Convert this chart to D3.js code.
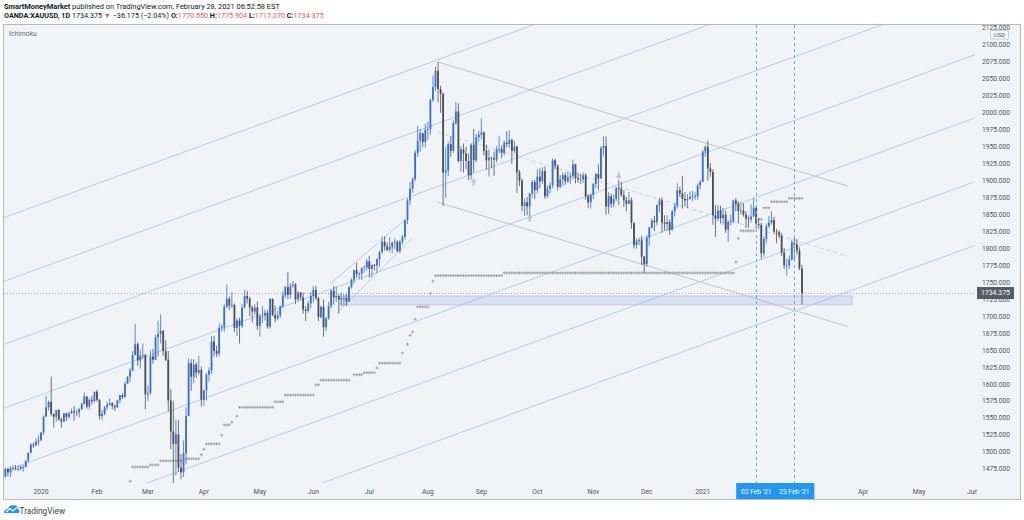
<!DOCTYPE html>
<html>
<head>
<meta charset="utf-8">
<script src="https://cdn.jsdelivr.net/npm/d3@7"></script>
<style>
  body { margin: 0; background: #fff; }
  svg { display: block; font-family: Roboto, "Open Sans", sans-serif; }
</style>
</head>
<body>
<div id="wrapper"></div>
<script>
// daily XAUUSD bars, 11 Dec 2019 .. 26 Feb 2021 (one row per month)
const firstOpen = 1464
const closes = [
  1475,1470,1476,1476,1475,1475,1478,1478,1487,1499,1511,1510,1515,1517,
  1529,1552,1566,1574,1556,1552,1562,1548,1545,1557,1552,1557,1560,1558,1558,1563,1571,1582,1567,1577,1575,1589,
  1577,1553,1556,1566,1570,1572,1568,1566,1576,1584,1581,1601,1611,1620,1643,1659,1635,1642,1643,1585,
  1587,1641,1636,1669,1674,1679,1649,1636,1576,1530,1512,1526,1477,1470,1498,1553,1631,1611,1629,1617,1621,1577,
  1591,1614,1620,1663,1649,1645,1683,1684,1714,1726,1716,1717,1683,1694,1686,1713,1730,1726,1713,1707,1713,1686,
  1700,1701,1705,1685,1726,1702,1697,1701,1715,1731,1743,1732,1745,1747,1725,1735,1728,1710,1708,1719,1730,
  1739,1727,1699,1714,1684,1697,1715,1738,1728,1730,1725,1727,1727,1722,1743,1754,1768,1762,1763,1771,1772,1781,
  1770,1776,1775,1784,1795,1810,1803,1798,1802,1809,1810,1796,1810,1817,1842,1871,1888,1902,1941,1959,1970,1957,1975,
  1976,2019,2038,2062,2035,2028,1912,1915,1954,1944,1985,2002,1929,1946,1940,1929,1908,1953,1930,1964,1968,
  1971,1944,1930,1934,1933,1931,1946,1947,1941,1956,1954,1960,1944,1950,1912,1900,1863,1868,1862,1881,1898,1886,
  1906,1899,1914,1877,1888,1893,1930,1922,1891,1902,1908,1899,1905,1907,1924,1904,1902,1902,1908,1877,1868,1879,
  1895,1910,1903,1948,1951,1862,1877,1866,1873,1889,1888,1879,1871,1866,1871,1838,1805,1811,1812,1788,1777,
  1816,1831,1841,1839,1864,1871,1838,1836,1839,1827,1855,1863,1886,1881,1873,1871,1873,1876,1877,1877,1893,1898,
  1943,1950,1918,1913,1849,1844,1856,1845,1850,1828,1839,1840,1871,1866,1855,1856,1850,1844,1843,1847,
  1860,1836,1835,1793,1814,1833,1838,1842,1825,1824,1819,1794,1775,1775,1784,1809,1806,1797,1770.55,1734.375
]
const highs = [
  1477,1477,1479,1481,1481,1480,1481,1481,1488,1499,1513,1514,1520,1524,
  1529,1554,1583,1576,1611,1557,1562,1563,1551,1558,1558,1560,1564,1568,1563,1565,1573,1588,1582,1580,1583,1589,
  1592,1578,1562,1568,1574,1579,1574,1570,1577,1584,1587,1604,1612,1624,1649,1689,1662,1651,1660,1645,
  1598,1650,1652,1673,1693,1703,1676,1665,1649,1593,1575,1548,1547,1497,1517,1566,1638,1637,1637,1632,1642,1626,
  1592,1617,1625,1671,1671,1657,1690,1688,1718,1747,1729,1736,1719,1697,1698,1718,1739,1738,1729,1716,1718,1722,
  1703,1715,1710,1709,1727,1723,1716,1708,1716,1737,1745,1765,1749,1752,1749,1737,1736,1735,1715,1723,1736,
  1745,1745,1729,1716,1725,1699,1721,1739,1745,1744,1733,1735,1732,1733,1745,1756,1769,1779,1765,1772,1775,1785,
  1789,1776,1777,1786,1797,1818,1818,1809,1817,1810,1815,1812,1812,1820,1843,1874,1898,1905,1945,1981,1976,1970,1984,
  1987,2021,2055,2068,2075,2040,2030,1949,1958,1966,1989,2016,2014,1951,1955,1950,1940,1955,1976,1969,1974,
  1992,1973,1953,1946,1935,1943,1951,1966,1952,1959,1973,1974,1962,1959,1952,1916,1903,1874,1876,1882,1901,1901,
  1917,1918,1920,1921,1893,1898,1933,1932,1924,1908,1912,1912,1913,1912,1931,1925,1912,1910,1912,1911,1880,1881,
  1897,1911,1924,1951,1965,1965,1883,1881,1880,1891,1901,1898,1886,1876,1883,1875,1838,1815,1816,1819,1789,
  1820,1832,1844,1848,1865,1875,1875,1849,1849,1843,1857,1867,1896,1891,1907,1883,1880,1884,1885,1883,1896,1901,
  1945,1952,1959,1926,1917,1864,1864,1863,1860,1856,1841,1850,1872,1875,1870,1868,1867,1855,1849,1865,
  1875,1863,1845,1838,1818,1837,1848,1855,1847,1829,1827,1823,1801,1785,1790,1813,1816,1814,1802,1775.904
]
const lows = [
  1462,1464,1463,1472,1473,1472,1473,1471,1477,1485,1498,1506,1508,1510,
  1517,1525,1552,1561,1553,1536,1545,1546,1536,1544,1546,1549,1556,1546,1553,1551,1562,1570,1564,1563,1570,1573,
  1574,1548,1547,1554,1562,1568,1563,1561,1565,1572,1578,1580,1600,1603,1619,1642,1627,1623,1637,1563,
  1575,1585,1630,1636,1641,1660,1642,1634,1560,1504,1451,1465,1471,1460,1463,1482,1553,1590,1601,1609,1614,1567,
  1568,1576,1604,1615,1641,1640,1641,1678,1677,1712,1709,1712,1677,1671,1660,1683,1712,1719,1700,1691,1702,1680,
  1670,1690,1694,1682,1682,1700,1691,1694,1698,1712,1727,1725,1726,1742,1718,1722,1724,1704,1693,1705,1712,
  1720,1724,1693,1697,1670,1678,1695,1712,1717,1721,1704,1715,1716,1715,1721,1741,1748,1757,1755,1754,1764,1767,
  1757,1758,1768,1764,1773,1792,1797,1796,1795,1793,1799,1795,1793,1806,1813,1836,1864,1882,1899,1935,1942,1949,1949,
  1960,1968,2016,2032,2015,2000,1863,1875,1907,1935,1941,1982,1927,1913,1912,1917,1901,1902,1912,1927,1957,
  1961,1937,1916,1906,1918,1907,1927,1940,1933,1937,1949,1948,1925,1940,1882,1892,1855,1848,1849,1848,1875,1873,
  1881,1889,1895,1873,1875,1881,1889,1917,1886,1889,1892,1894,1897,1895,1902,1896,1897,1895,1897,1872,1860,1859,
  1873,1889,1886,1903,1936,1850,1851,1860,1861,1870,1864,1876,1861,1855,1866,1829,1800,1800,1805,1776,1764,
  1773,1804,1829,1826,1834,1853,1823,1827,1826,1820,1827,1847,1859,1876,1859,1862,1860,1872,1870,1872,1872,1887,
  1900,1935,1900,1906,1835,1817,1840,1837,1835,1823,1810,1834,1837,1855,1837,1850,1847,1830,1831,1838,
  1848,1830,1829,1785,1788,1808,1830,1835,1822,1808,1815,1789,1770,1760,1770,1782,1782,1791,1768,1717.27
]

// indicator crosses: [first bar, last bar, price]
const crossRuns = [
  [49,49,1457],[50,56,1478],[57,60,1481],[61,69,1487],[71,76,1490],[77,77,1496],[78,78,1504],
  [79,84,1512],[85,85,1525],[86,88,1540],[89,89,1544],[91,91,1553],[92,105,1566],[106,109,1574],
  [110,121,1584],[122,123,1599],[124,135,1606],[137,140,1614],[141,145,1617],[146,146,1624],
  [147,155,1631],[156,156,1646],[158,158,1659],[159,159,1672],[160,160,1677],[161,161,1696],
  [162,166,1714],[167,167,1734],[168,168,1752],[169,195,1760],[196,286,1764],[287,287,1780],
  [288,288,1815],[289,294,1826],[296,297,1843],[298,300,1860],[301,307,1869],[308,313,1874]
]
// pivot arrows: [bar, price, direction]
const arrows = [[184,1898,'up'],[206,1845,'up'],[241,1907,'down']]

// drawings
const channelStarts = [1845,1751,1658,1564,1471,1377,1283]   // prices at bar -1
const channelRise = 523                                        // rise from bar -1 to bar 382
const channelBars = [-1, 382]
const grayUpper = [[170,2075],[331,1892]]
const grayLower = [[170,1868],[331,1685]]
const smallUpper = [[127.6,1748],[157,1842]]
const smallLower = [[130.3,1705],[159.8,1815]]
const zone = {from: 131.5, to: 332.7, top: 1730, bottom: 1717}
const markedBars = [295, 310]
const markedLabels = ["02 Feb '21", "23 Feb '21"]
const lastPrice = 1734.375
const priceTicks = d3.range(1475, 2126, 25)

// calendar of trading bars (weekdays, no 25 Dec / 1 Jan)
const days = d3.timeDay.range(new Date(2019, 11, 11), new Date(2021, 6, 1))
  .filter(d => d.getDay() !== 0 && d.getDay() !== 6)
  .filter(d => !(d.getMonth() === 11 && d.getDate() === 25) && !(d.getMonth() === 0 && d.getDate() === 1))

const bars = closes.map((c, i) => ({
  i, c,
  o: i === 0 ? firstOpen : closes[i - 1],
  h: highs[i], l: lows[i]
}))

const width = 1024, height = 520
const pane = {left: 4, right: 975, top: 25, bottom: 483}

const x = d3.scaleLinear().domain([14, 313]).range([41, 802])
const y = d3.scaleLinear().domain([1475, 2100]).range([469, 45])

const svg = d3.select('#wrapper').append('svg')
  .attr('width', width).attr('height', height)

svg.append('rect').attr('width', width).attr('height', height).attr('fill', '#fff')
svg.append('rect')
  .attr('x', 3.5).attr('y', 24.5).attr('width', 1017).attr('height', 475)
  .attr('fill', '#f2f3f6').attr('stroke', '#b6b9c0')

const defs = svg.append('defs')
defs.append('clipPath').attr('id', 'paneClip').append('rect')
  .attr('x', pane.left).attr('y', pane.top)
  .attr('width', pane.right - pane.left).attr('height', pane.bottom - pane.top)
defs.append('clipPath').attr('id', 'axisClip').append('rect')
  .attr('x', pane.right).attr('y', pane.top).attr('width', 45).attr('height', pane.bottom - pane.top)
defs.append('clipPath').attr('id', 'timeClip').append('rect')
  .attr('x', pane.left).attr('y', pane.bottom).attr('width', pane.right - pane.left + 2).attr('height', 16)

const chart = svg.append('g').attr('clip-path', 'url(#paneClip)')

// parallel channel
chart.selectAll('.chan').data(channelStarts).join('line')
  .attr('x1', x(channelBars[0])).attr('x2', x(channelBars[1]))
  .attr('y1', d => y(d)).attr('y2', d => y(d + channelRise))
  .attr('stroke', '#a9d0f5').attr('stroke-width', 1)

// falling channel
const seg = (g, p, stroke, dash) => g.append('line')
  .attr('x1', x(p[0][0])).attr('y1', y(p[0][1]))
  .attr('x2', x(p[1][0])).attr('y2', y(p[1][1]))
  .attr('stroke', stroke).attr('stroke-width', 1)
  .attr('stroke-dasharray', dash || null)
seg(chart, grayUpper, '#c2c4c8')
seg(chart, grayLower, '#c2c4c8')
seg(chart, [[grayUpper[0][0], (grayUpper[0][1] + grayLower[0][1]) / 2],
            [grayUpper[1][0], (grayUpper[1][1] + grayLower[1][1]) / 2]], '#b5d5f5', '4,3')
seg(chart, smallUpper, '#a9d0f5')
seg(chart, smallLower, '#a9d0f5')

// last price dotted line
chart.append('line')
  .attr('x1', pane.left).attr('x2', pane.right)
  .attr('y1', Math.round(y(lastPrice)) + 0.5).attr('y2', Math.round(y(lastPrice)) + 0.5)
  .attr('stroke', '#a3a6ad').attr('stroke-dasharray', '1,2')

// zone
chart.append('rect')
  .attr('x', x(zone.from)).attr('y', y(zone.top))
  .attr('width', x(zone.to) - x(zone.from)).attr('height', y(zone.bottom) - y(zone.top))
  .attr('fill', 'rgba(110,160,235,0.2)').attr('stroke', '#d2bfe6')

// crosses
const crossPts = crossRuns.flatMap(([a, b, p]) => d3.range(a, b + 1).map(i => [i, p]))
chart.append('path')
  .attr('d', crossPts.map(([i, p]) => {
    const cx = x(i), cy = y(p)
    return `M${cx - 1.5},${cy}h3M${cx},${cy - 1.5}v3`
  }).join(''))
  .attr('stroke', '#9c9ea4').attr('stroke-width', 0.9).attr('fill', 'none')

// arrows
chart.selectAll('.arrow').data(arrows).join('path')
  .attr('transform', d => `translate(${x(d[0])},${y(d[1])})${d[2] === 'down' ? ' scale(1,-1)' : ''}`)
  .attr('d', 'M0,-3.5L3,0H1.2V3.5H-1.2V0H-3Z')
  .attr('fill', '#c3c5c9')

// candles
const upColor = '#3371d6', downColor = '#4d4f54'
const candle = chart.selectAll('.bar').data(bars).join('g')
  .attr('fill', d => d.c >= d.o ? upColor : downColor)
  .attr('stroke', d => d.c >= d.o ? upColor : downColor)
candle.append('line')
  .attr('x1', d => x(d.i)).attr('x2', d => x(d.i))
  .attr('y1', d => y(Math.max(d.h, d.o, d.c))).attr('y2', d => y(Math.min(d.l, d.o, d.c)))
  .attr('stroke-width', 0.8)
candle.append('rect')
  .attr('x', d => x(d.i) - 0.9).attr('width', 1.8)
  .attr('y', d => y(Math.max(d.o, d.c)))
  .attr('height', d => Math.max(0.8, Math.abs(y(d.o) - y(d.c))))
  .attr('stroke', 'none')

// marked dates
chart.selectAll('.vmark').data(markedBars).join('line')
  .attr('x1', d => Math.round(x(d)) + 0.5).attr('x2', d => Math.round(x(d)) + 0.5)
  .attr('y1', pane.top).attr('y2', pane.bottom)
  .attr('stroke', '#62aaee').attr('stroke-dasharray', '3,3')

chart.append('text').attr('x', 9).attr('y', 36)
  .attr('font-size', 6.8).attr('fill', '#6a6d78').text('Ichimoku')

// price axis
const axisG = svg.append('g').attr('clip-path', 'url(#axisClip)')
axisG.selectAll('text').data(priceTicks).join('text')
  .attr('x', 982).attr('y', d => y(d) + 2.3)
  .attr('font-size', 6.7).attr('fill', '#50535e')
  .text(d3.format('.3f'))

const usd = svg.append('g')
usd.append('rect').attr('x', 990.5).attr('y', 30.5).attr('width', 18).attr('height', 8.5)
  .attr('rx', 1.5).attr('fill', '#f7f8fa').attr('stroke', '#c9ccd2')
usd.append('text').attr('x', 999.5).attr('y', 37).attr('text-anchor', 'middle')
  .attr('font-size', 6).attr('fill', '#50535e').text('USD')

const lastY = y(lastPrice)
svg.append('rect').attr('x', 977).attr('y', lastY - 6).attr('width', 37).attr('height', 12)
  .attr('fill', '#565b66')
svg.append('text').attr('x', 981).attr('y', lastY + 2.4)
  .attr('font-size', 6.9).attr('fill', '#fff').text(d3.format('.3f')(lastPrice))

// time axis (month labels under the date highlight are covered, so not drawn)
const hlLeft = x(markedBars[0]) - 20, hlRight = x(markedBars[1]) + 20
const monthStarts = days.map((d, i) => ({d, i}))
  .filter(({d, i}) => i > 0 && d.getMonth() !== days[i - 1].getMonth())
  .filter(({i}) => x(i) + 8 < hlLeft || x(i) - 8 > hlRight)
const timeG = svg.append('g').attr('clip-path', 'url(#timeClip)')
timeG.selectAll('text').data(monthStarts).join('text')
  .attr('x', d => x(d.i)).attr('y', 494)
  .attr('text-anchor', 'middle').attr('font-size', 6.7).attr('fill', '#50535e')
  .text(d => d.d.getMonth() === 0 ? d3.timeFormat('%Y')(d.d) : d3.timeFormat('%b')(d.d))

timeG.append('rect')
  .attr('x', hlLeft).attr('y', pane.bottom)
  .attr('width', hlRight - hlLeft).attr('height', 16)
  .attr('fill', '#2196f3')
timeG.selectAll('.mlab').data(markedBars).join('text')
  .attr('x', d => x(d)).attr('y', 494)
  .attr('text-anchor', 'middle').attr('font-size', 6.7).attr('fill', '#fff')
  .text((d, k) => markedLabels[k])

// header
const h1 = svg.append('text').attr('x', 4).attr('y', 8.5).attr('font-size', 7.4).attr('fill', '#131722')
h1.append('tspan').attr('font-weight', 'bold').text('SmartMoneyMarket')
h1.append('tspan').text(' published on TradingView.com, February 28, 2021 06:52:58 EST')

const red = '#ef5350'
const h2 = svg.append('text').attr('x', 4).attr('y', 17.6).attr('font-size', 7.2).attr('fill', '#131722')
const parts = [
  ['OANDA:XAUUSD, 1D ', 'bold', null], ['1734.375 ', null, null], ['▼', null, red],
  [' −36.175 (−2.04%) ', null, null],
  ['O:', 'bold', null], ['1770.550 ', null, red], ['H:', 'bold', null], ['1775.904 ', null, red],
  ['L:', 'bold', null], ['1717.270 ', null, red], ['C:', 'bold', null], ['1734.375', null, red]
]
parts.forEach(([t, w, c]) => h2.append('tspan')
  .attr('font-weight', w).attr('fill', c).text(t))

// footer logo
const logo = svg.append('g').attr('transform', 'translate(4,504)')
logo.append('path')
  .attr('d', 'M0,9 C0,6 2,4.5 4,5 C4.5,2 7,0.5 9.5,1.5 C11.5,0.5 14,2 14,5 C15.5,5.5 16,7.5 15,9 Z')
  .attr('fill', '#2196f3')
logo.append('path').attr('d', 'M2,8 L6,4.5 L9,7 L13,3.5')
  .attr('stroke', '#fff').attr('stroke-width', 1.2).attr('fill', 'none')
svg.append('text').attr('x', 19.5).attr('y', 513.5).attr('font-size', 8.3).attr('fill', '#3b3e47')
  .text('TradingView')
</script>
</body>
</html>
